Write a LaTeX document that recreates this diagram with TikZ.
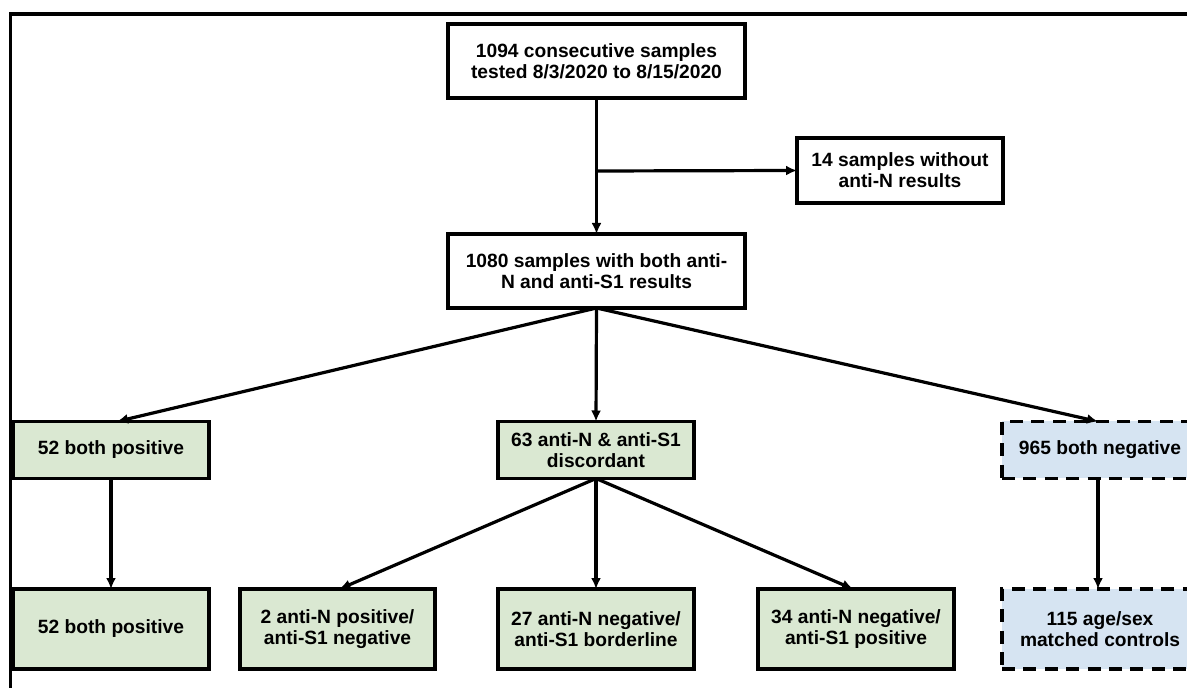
\documentclass[tikz,border=0pt]{standalone}
\usepackage{fontspec}
\setmainfont{Liberation Sans}
\usetikzlibrary{arrows.meta}
\definecolor{gfill}{RGB}{218,232,210}
\definecolor{bfill}{RGB}{214,228,242}
\newcommand{\boxfont}{\fontsize{9.6}{10.4}\selectfont\bfseries}
\begin{document}
\begin{tikzpicture}[x=0.5pt,y=-0.5pt,
  box/.style={draw, line width=1.8pt, inner sep=0pt, outer sep=0pt, align=center, font=\boxfont},
  greenbox/.style={box, fill=gfill},
  dbox/.style={box, fill=bfill, dash pattern=on 6.5pt off 4.2pt},
  arr/.style={line width=1.6pt, -{Latex[length=5.5pt,width=5pt]}},
  plain/.style={line width=1.6pt}]
\useasboundingbox (0,0) rectangle (1187,688);
\clip (0,0) rectangle (1187,688);
\fill[white] (0,0) rectangle (1187,688);
% frame
\draw[line width=2.2pt] (9,14) -- (1187,14);
\draw[line width=1.8pt] (10.5,13) -- (10.5,688);
% nodes
\node[box, minimum width=148.5pt, minimum height=37pt] (top) at (596.5,61) {1094 consecutive samples\\tested 8/3/2020 to 8/15/2020};
\node[box, minimum width=103pt, minimum height=32.5pt] (ex) at (900,170.5) {14 samples without\\anti-N results};
\node[box, minimum width=148.5pt, minimum height=37pt] (all) at (596.5,271) {1080 samples with both anti-\\N and anti-S1 results};
\node[greenbox, minimum width=98pt, minimum height=28.5pt] (pos) at (111,450) {52 both positive};
\node[greenbox, minimum width=98pt, minimum height=28.5pt] (disc) at (596,450) {63 anti-N \& anti-S1\\discordant};
\node[dbox, minimum width=98pt, minimum height=28.5pt] (neg) at (1100,450) {965 both negative};
\node[greenbox, minimum width=98pt, minimum height=40pt] (pos2) at (111,629) {52 both positive};
\node[greenbox, minimum width=97.5pt, minimum height=40pt] (npos) at (337.5,629) {2 anti-N positive/\\anti-S1 negative};
\node[greenbox, minimum width=98pt, minimum height=40pt] (nbord) at (596,629) {27 anti-N negative/\\anti-S1 borderline};
\node[greenbox, minimum width=98pt, minimum height=40pt] (nspos) at (856,629) {34 anti-N negative/\\anti-S1 positive};
\node[dbox, minimum width=98pt, minimum height=40pt] (ctrl) at (1100,629) {115 age/sex\\matched controls};
% connectors
\coordinate (br) at (596.5,171);
\draw[arr] (top.south) -- (all.north);
\draw[arr] (br) -- (ex.west);
\draw[arr] (all.south) -- ([xshift=3pt]pos.north);
\draw[arr] (all.south) -- (disc.north);
\draw[arr] (all.south) -- ([xshift=-1pt]neg.north);
\draw[arr] (pos.south) -- (pos2.north);
\draw[arr] (disc.south) -- ([xshift=1pt]npos.north);
\draw[arr] (disc.south) -- (nbord.north);
\draw[arr] (disc.south) -- ([xshift=-1.5pt]nspos.north);
\draw[arr] ([xshift=-1pt]neg.south) -- ([xshift=-1pt]ctrl.north);
\end{tikzpicture}
\end{document}
